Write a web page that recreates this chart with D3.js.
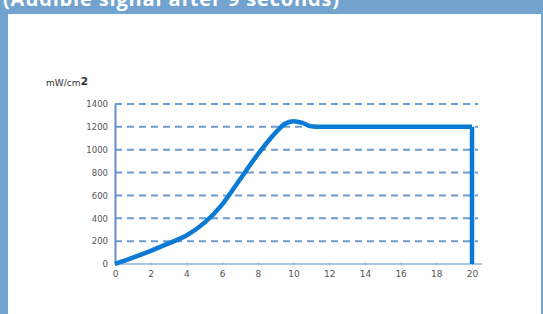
<!DOCTYPE html>
<html>
<head>
<meta charset="utf-8">
<script src="https://cdn.jsdelivr.net/npm/d3@7"></script>
<style>
  body { margin: 0; background: #fff; }
  svg { display: block; }
</style>
</head>
<body>
<div id="chart"></div>
<script>
// data
const times = [0, 1, 2, 3, 4, 5, 6, 7, 8, 9, 9.5, 10, 10.5, 11, 11.5, 12, 20, 20];
const power = [0, 55, 115, 180, 250, 360, 520, 740, 960, 1150, 1225, 1250, 1235, 1205, 1200, 1200, 1200, 0];
const xTicks = [0, 2, 4, 6, 8, 10, 12, 14, 16, 18, 20];
const yTicks = [0, 200, 400, 600, 800, 1000, 1200, 1400];
const title = "(Audible signal after 9 seconds)";
const unitLabel = "mW/cm";

const width = 543, height = 314;
const frameBlue = "#72a3cf";

const svg = d3.select("#chart")
              .append("svg")
              .attr("width", width)
              .attr("height", height);

// frame: blue band on top and left
svg.append("rect").attr("width", width).attr("height", height).attr("fill", frameBlue);
svg.append("rect")
   .attr("x", 8).attr("y", 14)
   .attr("width", width - 10).attr("height", height - 14)
   .attr("fill", "#fff");

svg.append("text")
   .attr("x", 3).attr("y", 6)
   .attr("fill", "#fff")
   .attr("font-family", "Open Sans, sans-serif")
   .attr("font-weight", "bold")
   .attr("font-size", 20)
   .attr("textLength", 336)
   .text(title);

// scales
const xScale = d3.scaleLinear().domain([0, 20]).range([115, 472]);
const yScale = d3.scaleLinear().domain([0, 1400]).range([264, 104]);

// dashed grid lines
svg.append("g")
   .selectAll("line")
   .data(yTicks.filter(d => d > 0))
   .join("line")
   .attr("x1", xScale(0))
   .attr("x2", xScale(20) + 6)
   .attr("y1", d => yScale(d))
   .attr("y2", d => yScale(d))
   .attr("stroke", "#6d9cd0")
   .attr("stroke-width", 2)
   .attr("stroke-dasharray", "7,5");

// x axis
const xAxis = d3.axisBottom(xScale).tickValues(xTicks).tickSize(3).tickPadding(4);
const gx = svg.append("g")
   .attr("transform", `translate(0, ${yScale(0)})`)
   .call(xAxis);
gx.select(".domain").remove();
gx.append("line")
  .attr("x1", xScale(0)).attr("x2", xScale(20) + 10)
  .attr("stroke", "#8fb3dc").attr("stroke-width", 1.5);
gx.selectAll(".tick line").attr("stroke", "#8fb3dc").attr("transform", "translate(0,-1.5)");
gx.selectAll(".tick text")
  .attr("fill", "#555")
  .attr("font-family", "DejaVu Sans, sans-serif")
  .attr("font-size", 9);

// y axis
const yAxis = d3.axisLeft(yScale).tickValues(yTicks).tickFormat(d3.format("d")).tickSize(0).tickPadding(7);
const gy = svg.append("g")
   .attr("transform", `translate(${xScale(0)}, 0)`)
   .call(yAxis);
gy.select(".domain").attr("stroke", "#5c92cc").attr("stroke-width", 2);
gy.selectAll(".tick text")
  .attr("fill", "#555")
  .attr("font-family", "DejaVu Sans, sans-serif")
  .attr("font-size", 8.5);

// unit label
const unit = svg.append("text")
   .attr("x", 46).attr("y", 86)
   .attr("fill", "#333")
   .attr("font-family", "DejaVu Sans, sans-serif")
   .attr("font-size", 9);
unit.append("tspan").text(unitLabel);
unit.append("tspan").attr("font-size", 11).attr("font-weight", "bold").attr("dy", -1).text("2");

// power curve
const line = d3.line()
    .x((d, i) => xScale(times[i]))
    .y(d => yScale(d))
    .curve(d3.curveMonotoneX);

svg.append("path")
   .datum(power.slice(0, -1))
   .attr("d", line)
   .attr("fill", "none")
   .attr("stroke", "#0a7ad4")
   .attr("stroke-width", 4.5)
   .attr("stroke-linejoin", "round");

// drop at the end
svg.append("line")
   .attr("x1", xScale(times[times.length - 1]))
   .attr("x2", xScale(times[times.length - 1]))
   .attr("y1", yScale(power[power.length - 2]))
   .attr("y2", yScale(power[power.length - 1]))
   .attr("stroke", "#0a7ad4")
   .attr("stroke-width", 4.5);
</script>
</body>
</html>
